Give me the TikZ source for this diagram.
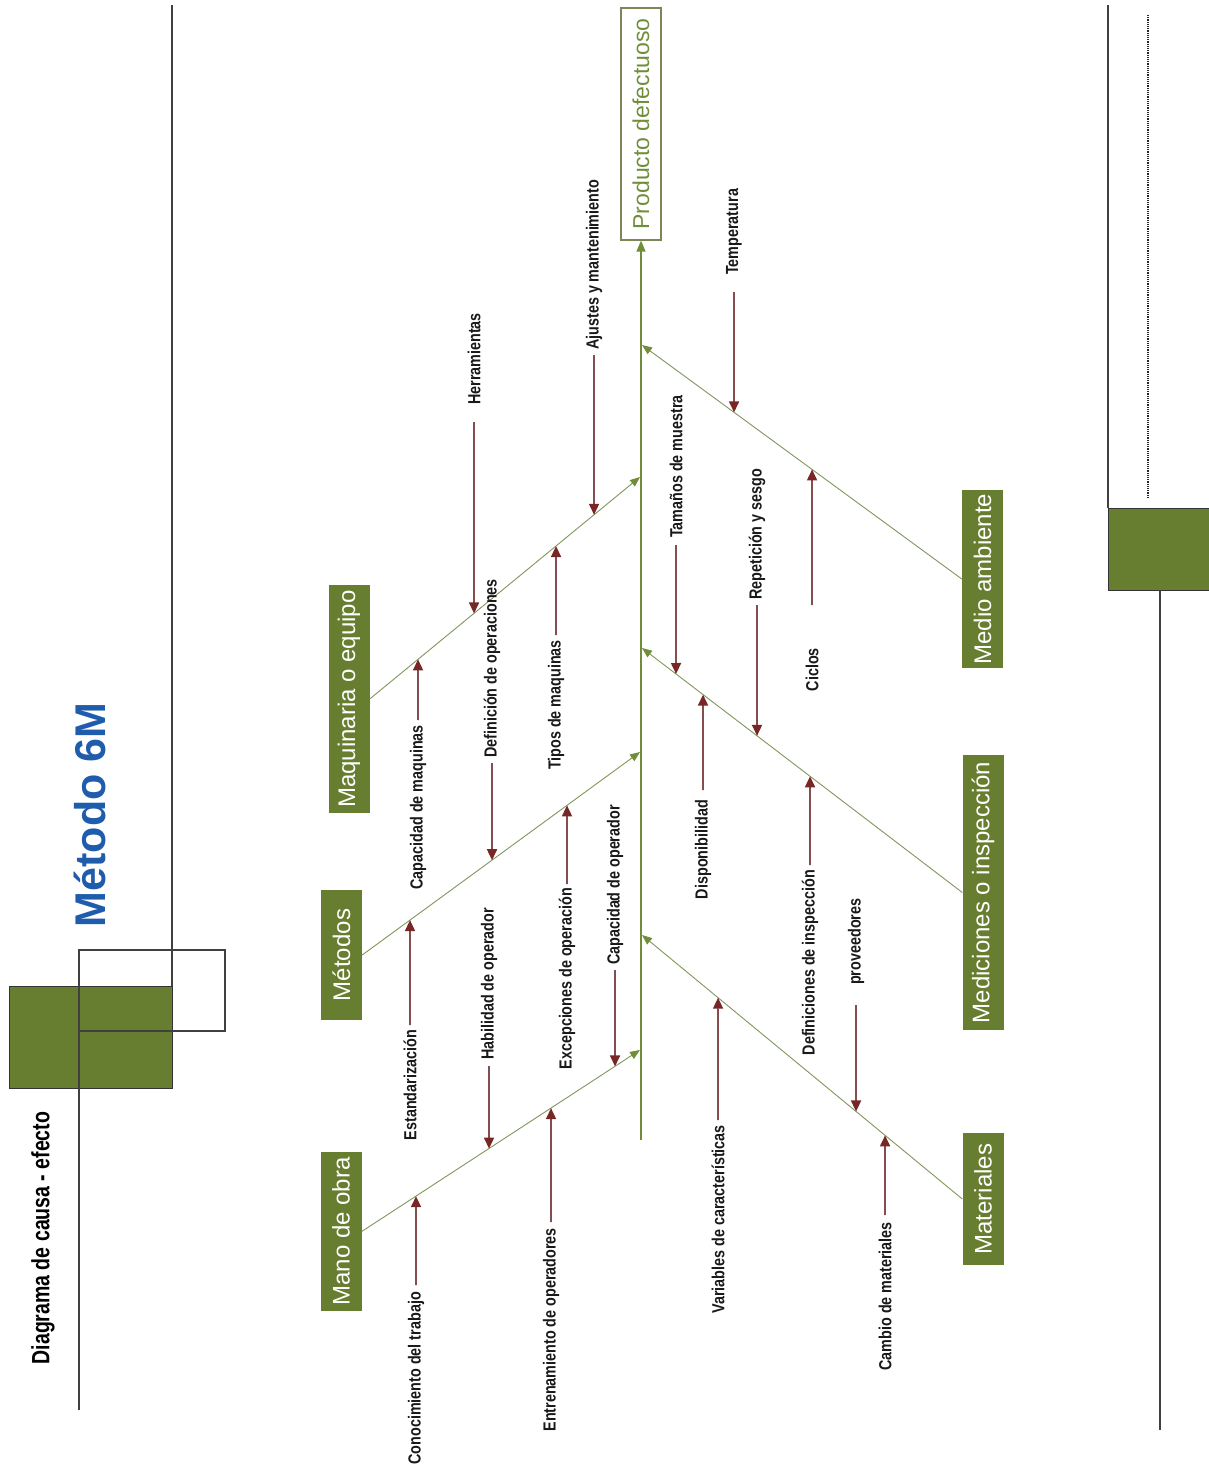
\documentclass[tikz,border=0pt]{standalone}
\usepackage{fontspec}
\setmainfont{Liberation Sans}
\newfontfamily\narrowfont[FakeStretch=0.82]{Liberation Sans}
\newfontfamily\titlenarrow[FakeStretch=0.78]{Liberation Sans}
\usetikzlibrary{arrows.meta}

\definecolor{boxgreen}{RGB}{103,126,48}
\definecolor{spinegreen}{RGB}{112,142,58}
\definecolor{branchgreen}{RGB}{128,150,90}
\definecolor{effectline}{RGB}{125,135,85}
\definecolor{effecttext}{RGB}{112,142,58}
\definecolor{causeline}{RGB}{132,78,78}
\definecolor{causehead}{RGB}{120,38,38}
\definecolor{titleblue}{RGB}{32,92,172}

\begin{document}
\begin{tikzpicture}[x=1pt,y=-1pt,
  causelabel/.style={rotate=90, inner sep=0pt, text=black!90,
    font=\narrowfont\bfseries\fontsize{17.5}{20}\selectfont},
  causearrow/.style={draw=causeline, line width=1.7pt,
    -{Triangle[length=11pt,width=10pt,color=causehead]}},
  branch/.style={draw=branchgreen, line width=0.9pt,
    -{Triangle[length=10pt,width=8pt,color=spinegreen]}},
  spine/.style={draw=spinegreen, line width=1.5pt,
    -{Triangle[length=11pt,width=9pt,color=spinegreen]}},
  catbox/.style={rotate=90, fill=boxgreen, text=white, inner sep=0pt,
    minimum height=41pt, font=\fontsize{24}{28}\selectfont},
  deco/.style={draw=black!75, line width=1.4pt}]

\useasboundingbox (0,0) rectangle (1209,1469);
\clip (0,0) rectangle (1209,1469);

% ---- left header decoration
\fill[boxgreen, draw=black!80, line width=1pt] (9,986) rectangle (172,1088);
\draw[deco] (79,950) rectangle (225,1031);
\draw[deco] (172,5) -- (172,986);
\draw[deco] (79,1031) -- (79,1410);
\node[rotate=90, font=\titlenarrow\bfseries\fontsize{25}{30}\selectfont] (subtitle) at (43,1238) {Diagrama de causa - efecto};
\node[rotate=90, text=titleblue, font=\bfseries\fontsize{43}{50}\selectfont] (title) at (90,815) {Método 6M};

% ---- right header decoration
\draw[deco] (1108,5) -- (1108,508);
\draw[black!85, line width=2pt, dash pattern=on 1.2pt off 1pt] (1148,15) -- (1148,497);
\fill[boxgreen, draw=black!80, line width=1pt] (1108,508) rectangle (1212,590);
\draw[deco] (1160,590) -- (1160,1430);

% ---- effect and spine
\node[rotate=90, draw=effectline, line width=1.2pt, text=effecttext,
  minimum width=232pt, minimum height=40pt, inner sep=0pt,
  font=\fontsize{23}{27}\selectfont] (eff) at (641,124) {Producto defectuoso};
\coordinate (tail) at (641,1140);
\draw[spine] (tail) -- (eff.west);

% ---- category boxes
\node[catbox, minimum width=228pt] (maq) at (349,699) {Maquinaria o equipo};
\node[catbox, minimum width=130pt] (met) at (341.5,955) {Métodos};
\node[catbox, minimum width=159pt] (man) at (341,1231.5) {Mano de obra};
\node[catbox, minimum width=178pt] (med) at (982.5,579) {Medio ambiente};
\node[catbox, minimum width=275pt] (mic) at (983,892.5) {Mediciones o inspección};
\node[catbox, minimum width=132pt] (mat) at (983,1199) {Materiales};

% ---- branch endpoints on the spine
\coordinate (maqA) at (maq.south); \coordinate (maqB) at (640,477);
\coordinate (metA) at (met.south); \coordinate (metB) at (640,752);
\coordinate (manA) at (man.south); \coordinate (manB) at (640,1050);
\coordinate (medA) at (med.north); \coordinate (medB) at (642,345);
\coordinate (micA) at (mic.north); \coordinate (micB) at (642,648);
\coordinate (matA) at (mat.north); \coordinate (matB) at (642,935);

\foreach \b in {maq,met,man,med,mic,mat}
  \draw[branch] (\b A) -- (\b B);

% ---- causes: id / x / text end / arrow tail / branch / anchor / label
\foreach \n/\x/\yt/\ytail/\b/\a/\lab in {
  1/416/1292/1285/man/east/Conocimiento del trabajo,
  2/551/1228/1222/man/east/Entrenamiento de operadores,
  3/489/1060/1066/man/west/Habilidad de operador,
  4/615/965/970/man/west/Capacidad de operador,
  5/410/1030/1025/met/east/Estandarización,
  6/567/888/884/met/east/Excepciones de operación,
  7/492/758/763/met/west/Definición de operaciones,
  8/418/725/720/maq/east/Capacidad de maquinas,
  9/556/640/635/maq/east/Tipos de maquinas,
  10/474/405/422/maq/west/Herramientas,
  11/594/350/355/maq/west/Ajustes y mantenimiento,
  12/734/275/292/med/west/Temperatura,
  13/812/648/605/med/east/Ciclos,
  14/676/538/545/mic/west/Tamaños de muestra,
  15/703/800/790/mic/east/Disponibilidad,
  16/757/600/605/mic/west/Repetición y sesgo,
  17/810/870/865/mic/east/Definiciones de inspección,
  18/718/1125/1120/mat/east/Variables de características,
  19/856/985/1005/mat/west/proveedores,
  20/885/1222/1215/mat/east/Cambio de materiales}
{
  \node[causelabel, anchor=\a] (c\n) at (\x,\yt) {\lab};
  \coordinate (t\n) at (intersection cs: first line={(\b A)--(\b B)},
                                         second line={(\x,0)--(\x,1469)});
  \pgfmathsetmacro\gap{abs(\ytail-\yt)}
  \draw[causearrow, shorten <=\gap pt] (c\n.\a) -- (t\n);
}
\end{tikzpicture}
\end{document}
